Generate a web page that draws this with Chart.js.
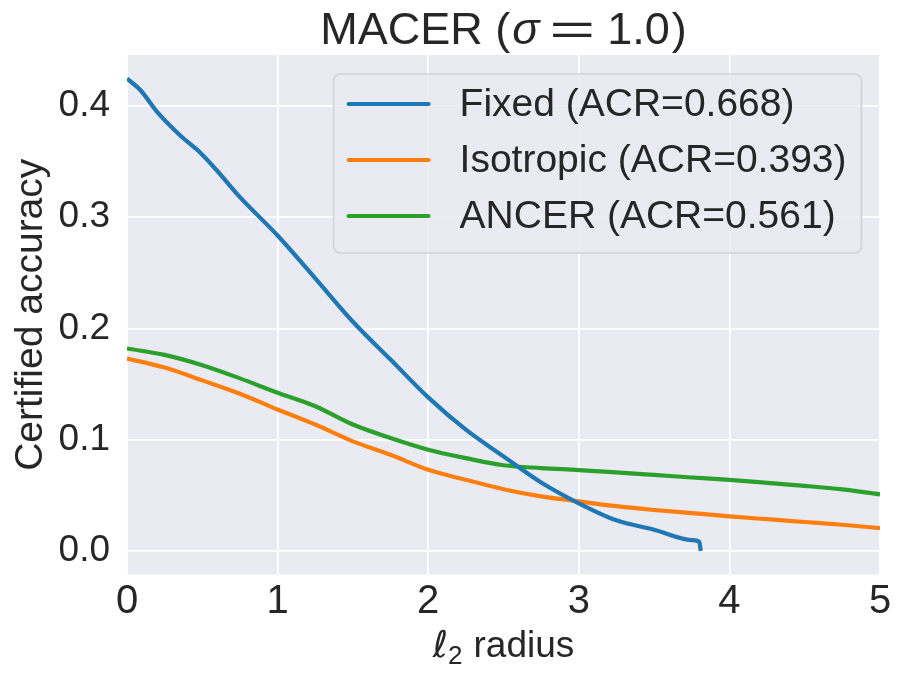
<!DOCTYPE html>
<html>
<head>
<meta charset="utf-8">
<script src="https://cdn.jsdelivr.net/npm/chart.js@4.4.0/dist/chart.umd.min.js"></script>
<style>
  html, body { margin: 0; padding: 0; background: #ffffff; }
  #wrap { width: 899px; height: 675px; }
</style>
</head>
<body>
<div id="wrap"><canvas id="chart" width="899" height="675"></canvas></div>
<script>
// l2 radius grid shared by Isotropic and ANCER
const radius = [0, 0.25, 0.5, 0.75, 1, 1.25, 1.5, 1.75, 2, 2.25, 2.5, 2.75, 3,
  3.25, 3.5, 3.75, 4, 4.25, 4.5, 4.75, 5];
// Fixed stops before radius 4
const fixedRadius = [0, 0.09, 0.2, 0.35, 0.49, 0.6, 0.75, 1, 1.25, 1.5, 1.75,
  2, 2.25, 2.5, 2.75, 3, 3.25, 3.5, 3.75, 3.8, 3.81];

const fixedAcc = [0.4246, 0.4141, 0.3946, 0.3738, 0.3575, 0.3415, 0.318, 0.2835,
  0.245, 0.206, 0.172, 0.138, 0.109, 0.085, 0.0615, 0.0428, 0.0275, 0.019,
  0.0097, 0.0082, 0.0];
const isotropicAcc = [0.173, 0.1648, 0.1533, 0.1413, 0.1271, 0.1136, 0.0985,
  0.0864, 0.0729, 0.0639, 0.0555, 0.049, 0.0445, 0.0402, 0.0368, 0.034, 0.0311,
  0.0285, 0.026, 0.0235, 0.0205];
const ancerAcc = [0.182, 0.1762, 0.1669, 0.1551, 0.1422, 0.1301, 0.1136,
  0.1015, 0.091, 0.0834, 0.077, 0.0745, 0.0727, 0.0706, 0.0683, 0.066, 0.0638,
  0.0612, 0.0585, 0.0553, 0.0508];

const seriesLabels = ["Fixed (ACR=0.668)", "Isotropic (ACR=0.393)", "ANCER (ACR=0.561)"];
const seriesColors = ["#1f77b4", "#ff7f0e", "#2ca02c"];

const xTicks = [0, 1, 2, 3, 4, 5];
const yTicks = [0, 0.1, 0.2, 0.3, 0.4];

const textColor = "#262626";
const sans = "'Liberation Sans', Arial, sans-serif";

const toPoints = (xs, ys) => xs.map((x, i) => ({ x: x, y: ys[i] }));

// grey plot background like seaborn darkgrid
const plotBackground = {
  id: "plotBackground",
  beforeDraw(chart) {
    const { ctx, chartArea } = chart;
    ctx.save();
    ctx.fillStyle = "#eaeaf2";
    ctx.fillRect(chartArea.left, chartArea.top,
      chartArea.right - chartArea.left, chartArea.bottom - chartArea.top);
    ctx.restore();
  },
};

// draws a row of text pieces centred on cx
const drawPieces = (ctx, parts, cx, baseline) => {
  let total = 0;
  parts.forEach((p) => {
    ctx.font = p.font;
    p.width = ctx.measureText(p.text).width * (p.sx || 1);
    total += p.width + (p.gap || 0);
  });
  let x = cx - total / 2;
  ctx.fillStyle = textColor;
  ctx.textBaseline = "alphabetic";
  ctx.textAlign = "left";
  parts.forEach((p) => {
    x += p.gap || 0;
    ctx.font = p.font;
    ctx.save();
    ctx.translate(x, baseline + (p.dy || 0));
    ctx.scale(p.sx || 1, 1);
    ctx.fillText(p.text, 0, 0);
    ctx.restore();
    x += p.width;
  });
};

// title with an italic sigma, x label with l2 subscript
const mathText = {
  id: "mathText",
  afterDraw(chart) {
    const { ctx, chartArea } = chart;
    const cx = (chartArea.left + chartArea.right) / 2;
    ctx.save();
    drawPieces(ctx, [
      { text: "MACER (", font: "45px " + sans },
      { text: "σ", font: "italic 45px " + sans, gap: 2 },
      { text: "=", font: "45px " + sans, gap: 10, sx: 1.75 },
      { text: "1.0", font: "45px " + sans, gap: 12 },
      { text: ")", font: "45px " + sans, gap: 2 },
    ], cx, 44);
    drawPieces(ctx, [
      { text: "ℓ", font: "italic 37px 'DejaVu Sans', sans-serif" },
      { text: "2", font: "26px " + sans, dy: 7 },
      { text: "radius", font: "37px " + sans, gap: 11 },
    ], cx, 657);
    ctx.restore();
  },
};

// legend inside the axes, upper right
const innerLegend = {
  id: "innerLegend",
  afterDatasetsDraw(chart) {
    const { ctx, chartArea } = chart;
    const fontSize = 39;
    ctx.save();
    ctx.font = fontSize + "px " + sans;
    const maxW = Math.max(...chart.data.datasets.map((d) => ctx.measureText(d.label).width));
    const right = chartArea.right - 18.5;
    const top = chartArea.top + 19;
    const width = 126 + maxW + 15;
    const height = 179;
    const left = right - width;

    ctx.beginPath();
    ctx.roundRect(left, top, width, height, 7);
    ctx.fillStyle = "rgba(234, 234, 242, 0.8)";
    ctx.fill();
    ctx.lineWidth = 1.6;
    ctx.strokeStyle = "rgba(204, 204, 204, 0.8)";
    ctx.stroke();

    chart.data.datasets.forEach((d, i) => {
      const y = top + 30 + i * 56;
      ctx.beginPath();
      ctx.moveTo(left + 15, y);
      ctx.lineTo(left + 95, y);
      ctx.strokeStyle = d.borderColor;
      ctx.lineWidth = 4.2;
      ctx.lineCap = "round";
      ctx.stroke();
      ctx.fillStyle = textColor;
      ctx.textBaseline = "middle";
      ctx.textAlign = "left";
      ctx.fillText(d.label, left + 126, y + 1);
    });
    ctx.restore();
  },
};

const makeSeries = (label, color, points) => ({
  label: label,
  data: points,
  borderColor: color,
  backgroundColor: color,
  borderWidth: 4.2,
  pointRadius: 0,
  cubicInterpolationMode: "monotone",
  fill: false,
  borderJoinStyle: "round",
});

new Chart(document.getElementById("chart").getContext("2d"), {
  type: "line",
  data: {
    datasets: [
      makeSeries(seriesLabels[0], seriesColors[0], toPoints(fixedRadius, fixedAcc)),
      makeSeries(seriesLabels[1], seriesColors[1], toPoints(radius, isotropicAcc)),
      makeSeries(seriesLabels[2], seriesColors[2], toPoints(radius, ancerAcc)),
    ],
  },
  options: {
    responsive: false,
    animation: false,
    devicePixelRatio: 1,
    layout: { padding: { top: 55, right: 19, left: 0, bottom: 0 } },
    plugins: {
      legend: { display: false },
      title: { display: false },
      tooltip: { enabled: false },
    },
    scales: {
      x: {
        type: "linear",
        min: 0,
        max: 5,
        afterBuildTicks: (scale) => {
          scale.ticks = xTicks.map((v) => ({ value: v }));
        },
        afterFit: (scale) => {
          scale.height = 100.5;
        },
        grid: { color: "#ffffff", lineWidth: 1.8, drawTicks: false },
        border: { display: false },
        ticks: {
          color: textColor,
          font: { family: sans, size: 40 },
          padding: 3,
          maxRotation: 0,
          autoSkip: false,
          callback: (v) => String(v),
        },
        title: { display: false },
      },
      y: {
        type: "linear",
        min: -0.0212,
        max: 0.4458,
        afterBuildTicks: (scale) => {
          scale.ticks = yTicks.map((v) => ({ value: v }));
        },
        afterFit: (scale) => {
          scale.width = 127;
        },
        grid: { color: "#ffffff", lineWidth: 1.8, drawTicks: false },
        border: { display: false },
        ticks: {
          color: textColor,
          font: { family: sans, size: 37 },
          padding: 17,
          callback: (v) => v.toFixed(1),
        },
        title: {
          display: true,
          text: "Certified accuracy",
          color: textColor,
          font: { family: sans, size: 39 },
          padding: { top: 7.5, bottom: 0 },
        },
      },
    },
  },
  plugins: [plotBackground, mathText, innerLegend],
});
</script>
</body>
</html>
